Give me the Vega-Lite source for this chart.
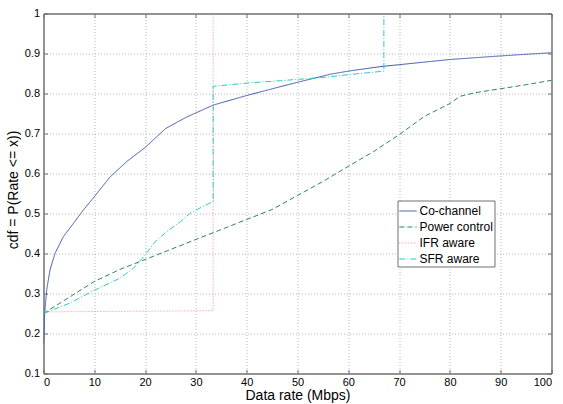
{
  "$schema": "https://vega.github.io/schema/vega-lite/v6.json",
  "width": 508,
  "height": 360,
  "autosize": {"type": "none"},
  "padding": {"left": 43.5, "top": 13.5, "right": 11.5, "bottom": 30.5},
  "background": "white",
  "config": {
    "view": {"stroke": "#707070", "strokeWidth": 1},
    "font": "Liberation Sans",
    "axis": {
      "labelFont": "Liberation Sans",
      "titleFont": "Liberation Sans",
      "labelFontSize": 11,
      "titleFontSize": 14,
      "titleFontWeight": "normal",
      "labelColor": "#000000",
      "titleColor": "#000000",
      "domainColor": "#707070",
      "tickColor": "#707070",
      "gridColor": "#b8b8b8",
      "gridDash": [1, 2],
      "gridOpacity": 1
    }
  },
  "data": {
    "values": [
      {"s": "Co-channel", "o": 0, "x": 0, "y": 0.175},
      {"s": "Co-channel", "o": 1, "x": 0.1, "y": 0.2},
      {"s": "Co-channel", "o": 2, "x": 0.23, "y": 0.25},
      {"s": "Co-channel", "o": 3, "x": 0.63, "y": 0.309},
      {"s": "Co-channel", "o": 4, "x": 1.28, "y": 0.359},
      {"s": "Co-channel", "o": 5, "x": 2.26, "y": 0.4},
      {"s": "Co-channel", "o": 6, "x": 3.9, "y": 0.442},
      {"s": "Co-channel", "o": 7, "x": 5.87, "y": 0.475},
      {"s": "Co-channel", "o": 8, "x": 7.8, "y": 0.508},
      {"s": "Co-channel", "o": 9, "x": 10.2, "y": 0.545},
      {"s": "Co-channel", "o": 10, "x": 13, "y": 0.59},
      {"s": "Co-channel", "o": 11, "x": 16.4, "y": 0.63},
      {"s": "Co-channel", "o": 12, "x": 20, "y": 0.665},
      {"s": "Co-channel", "o": 13, "x": 24, "y": 0.712},
      {"s": "Co-channel", "o": 14, "x": 28, "y": 0.74},
      {"s": "Co-channel", "o": 15, "x": 33.4, "y": 0.771},
      {"s": "Co-channel", "o": 16, "x": 40, "y": 0.795},
      {"s": "Co-channel", "o": 17, "x": 46.6, "y": 0.817},
      {"s": "Co-channel", "o": 18, "x": 50, "y": 0.828},
      {"s": "Co-channel", "o": 19, "x": 56.4, "y": 0.848},
      {"s": "Co-channel", "o": 20, "x": 60, "y": 0.856},
      {"s": "Co-channel", "o": 21, "x": 66.2, "y": 0.867},
      {"s": "Co-channel", "o": 22, "x": 70, "y": 0.872},
      {"s": "Co-channel", "o": 23, "x": 80, "y": 0.885},
      {"s": "Co-channel", "o": 24, "x": 90, "y": 0.894},
      {"s": "Co-channel", "o": 25, "x": 100, "y": 0.902},
      {"s": "Power control", "o": 0, "x": 0, "y": 0.25},
      {"s": "Power control", "o": 1, "x": 5, "y": 0.29},
      {"s": "Power control", "o": 2, "x": 10, "y": 0.33},
      {"s": "Power control", "o": 3, "x": 15, "y": 0.36},
      {"s": "Power control", "o": 4, "x": 20, "y": 0.385},
      {"s": "Power control", "o": 5, "x": 25, "y": 0.41},
      {"s": "Power control", "o": 6, "x": 30, "y": 0.435},
      {"s": "Power control", "o": 7, "x": 35, "y": 0.46},
      {"s": "Power control", "o": 8, "x": 40, "y": 0.485},
      {"s": "Power control", "o": 9, "x": 45, "y": 0.51},
      {"s": "Power control", "o": 10, "x": 50, "y": 0.545},
      {"s": "Power control", "o": 11, "x": 55, "y": 0.58},
      {"s": "Power control", "o": 12, "x": 60, "y": 0.618},
      {"s": "Power control", "o": 13, "x": 65, "y": 0.655},
      {"s": "Power control", "o": 14, "x": 70, "y": 0.697},
      {"s": "Power control", "o": 15, "x": 75, "y": 0.743},
      {"s": "Power control", "o": 16, "x": 80, "y": 0.775},
      {"s": "Power control", "o": 17, "x": 82, "y": 0.793},
      {"s": "Power control", "o": 18, "x": 85, "y": 0.802},
      {"s": "Power control", "o": 19, "x": 90, "y": 0.812},
      {"s": "Power control", "o": 20, "x": 95, "y": 0.822},
      {"s": "Power control", "o": 21, "x": 100, "y": 0.833},
      {"s": "IFR aware", "o": 0, "x": 0, "y": 0.254},
      {"s": "IFR aware", "o": 1, "x": 33.4, "y": 0.257},
      {"s": "IFR aware", "o": 2, "x": 33.4, "y": 1.0},
      {"s": "SFR aware", "o": 0, "x": 0, "y": 0.25},
      {"s": "SFR aware", "o": 1, "x": 5, "y": 0.275},
      {"s": "SFR aware", "o": 2, "x": 10, "y": 0.308},
      {"s": "SFR aware", "o": 3, "x": 15, "y": 0.338},
      {"s": "SFR aware", "o": 4, "x": 17.7, "y": 0.363},
      {"s": "SFR aware", "o": 5, "x": 20, "y": 0.396},
      {"s": "SFR aware", "o": 6, "x": 22, "y": 0.43},
      {"s": "SFR aware", "o": 7, "x": 24.3, "y": 0.455},
      {"s": "SFR aware", "o": 8, "x": 27, "y": 0.48},
      {"s": "SFR aware", "o": 9, "x": 29, "y": 0.502},
      {"s": "SFR aware", "o": 10, "x": 31, "y": 0.515},
      {"s": "SFR aware", "o": 11, "x": 33.4, "y": 0.53},
      {"s": "SFR aware", "o": 12, "x": 33.4, "y": 0.818},
      {"s": "SFR aware", "o": 13, "x": 40, "y": 0.826},
      {"s": "SFR aware", "o": 14, "x": 46.6, "y": 0.832},
      {"s": "SFR aware", "o": 15, "x": 55, "y": 0.84},
      {"s": "SFR aware", "o": 16, "x": 60, "y": 0.847},
      {"s": "SFR aware", "o": 17, "x": 67, "y": 0.856},
      {"s": "SFR aware", "o": 18, "x": 67, "y": 1.0}
    ]
  },
  "layer": [
    {
      "mark": {"type": "line", "strokeWidth": 1, "clip": true},
      "encoding": {
        "x": {
          "field": "x", "type": "quantitative",
          "scale": {"domain": [0, 100], "nice": false, "zero": false},
          "axis": {
            "orient": "bottom", "values": [0,10,20,30,40,50,60,70,80,90,100],
            "grid": true, "tickSize": -4, "labelPadding": 7,
            "title": "Data rate (Mbps)", "titleBaseline": "middle",
            "titleX": 254, "titleY": 22
          }
        },
        "y": {
          "field": "y", "type": "quantitative",
          "scale": {"domain": [0.1, 1], "nice": false, "zero": false},
          "axis": {
            "orient": "left", "values": [0.1,0.2,0.3,0.4,0.5,0.6,0.7,0.8,0.9,1],
            "format": ".1~f",
            "grid": true, "tickSize": -4, "labelPadding": 8,
            "title": "cdf = P(Rate <= x))", "titleBaseline": "middle",
            "titleX": -30, "titleY": 176
          }
        },
        "order": {"field": "o", "type": "quantitative"},
        "color": {
          "field": "s", "type": "nominal",
          "scale": {
            "domain": ["Co-channel", "Power control", "IFR aware", "SFR aware"],
            "range": ["#3d58a8", "#2a8a52", "#ff8080", "#2fc8c8"]
          },
          "legend": {
            "orient": "none", "legendX": 354, "legendY": 187,
            "title": null, "symbolType": "stroke", "symbolSize": 300,
            "symbolStrokeWidth": 1, "labelFontSize": 12, "labelFont": "Liberation Sans",
            "labelColor": "#000000",
            "strokeColor": "#707070", "fillColor": "white", "padding": 1,
            "rowPadding": -1.5, "labelOffset": 2, "cornerRadius": 0, "labelLimit": 200
          }
        },
        "strokeDash": {
          "field": "s", "type": "nominal",
          "scale": {
            "domain": ["Co-channel", "Power control", "IFR aware", "SFR aware"],
            "range": [[1, 0], [5, 3], [1, 2], [6, 2, 1, 2]]
          },
          "legend": null
        }
      }
    },
    {
      "mark": {"type": "line", "opacity": 0},
      "encoding": {
        "x": {
          "field": "x", "type": "quantitative",
          "axis": {"orient": "top", "values": [0,10,20,30,40,50,60,70,80,90,100], "labels": false, "grid": false, "tickSize": -4, "title": null}
        },
        "y": {
          "field": "y", "type": "quantitative",
          "axis": {"orient": "right", "values": [0.1,0.2,0.3,0.4,0.5,0.6,0.7,0.8,0.9,1], "labels": false, "grid": false, "tickSize": -4, "title": null}
        },
        "detail": {"field": "s"}
      }
    }
  ],
  "resolve": {"axis": {"x": "independent", "y": "independent"}}
}
